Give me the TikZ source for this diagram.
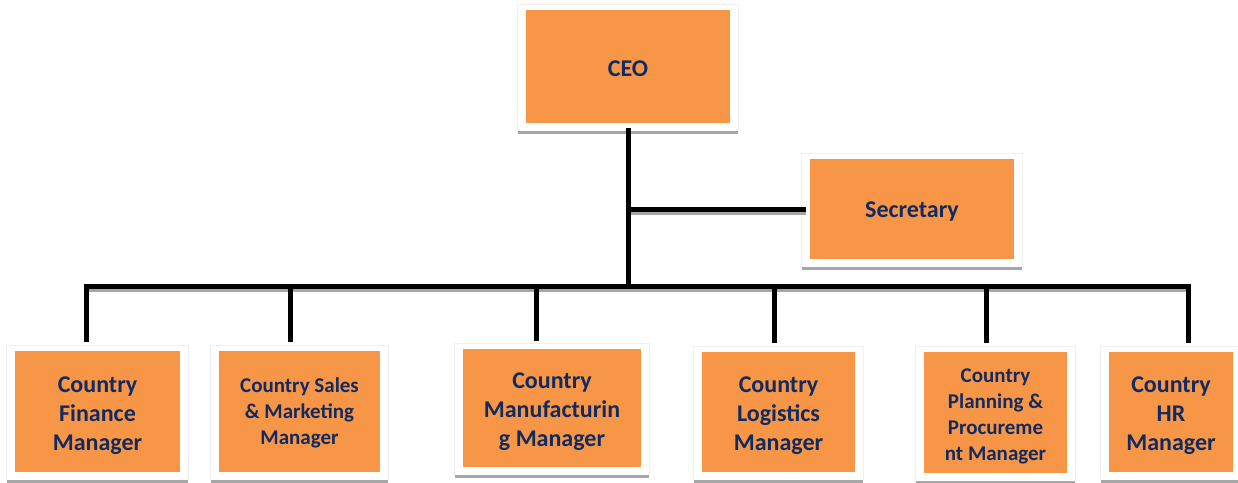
\documentclass[tikz,border=0pt]{standalone}
\usepackage{fontspec}
\setmainfont{Carlito}
\usetikzlibrary{calc,backgrounds}
\definecolor{boxorange}{HTML}{F79646}
\definecolor{labelblue}{HTML}{112A60}
\definecolor{shadowgray}{HTML}{A6A6A6}
% invisible strut that pushes a label's first line down a little
\newcommand\boxstrut[1]{\rule{0pt}{#1}}
\begin{document}
\begin{tikzpicture}[x=0.75pt,y=-0.75pt,
  role/.style={fill=boxorange, text=labelblue, align=center, inner sep=0pt,
    font=\bfseries\fontsize{18}{21.75}\selectfont},
  smalltext/.style={font=\bfseries\fontsize{15.75}{19.5}\selectfont},
  frame/.style={draw=black!6, line width=0.5pt, fill=white},
  frameshadow/.style={draw=shadowgray, line width=2.5pt},
  link/.style={draw=black, line width=3.75pt},
  linkshadow/.style={draw=shadowgray, line width=3.75pt}]
\useasboundingbox (0,0) rectangle (1238,482);

% boxes
\node[role, minimum width=153pt, minimum height=84.75pt] (ceo) at (628,66.5)
  {\boxstrut{14.8pt}CEO};
\node[role, minimum width=153pt, minimum height=75pt] (sec) at (912,209)
  {\boxstrut{16.3pt}Secretary};
\node[role, minimum width=123.75pt, minimum height=90.75pt] (fin) at (97.5,411.5)
  {\boxstrut{17.8pt}Country\\Finance\\Manager};
\node[role, smalltext, minimum width=120.75pt, minimum height=90.75pt] (sales) at (299.5,411.5)
  {\boxstrut{13.3pt}Country Sales\\\& Marketing\\Manager};
\node[role, minimum width=133.5pt, minimum height=88.5pt] (manu) at (552,408)
  {\boxstrut{17.8pt}Country\\Manufacturin\\g Manager};
\node[role, minimum width=114.75pt, minimum height=90pt] (log) at (778.5,412)
  {\boxstrut{17.8pt}Country\\Logistics\\Manager};
\node[role, smalltext, minimum width=107.25pt, minimum height=90.75pt] (plan) at (995.5,412.5)
  {\boxstrut{16.3pt}Country\\Planning \&\\Procureme\\nt Manager};
\node[role, minimum width=93pt, minimum height=90pt] (hr) at (1171,412)
  {\boxstrut{17.8pt}Country\\HR\\Manager};

% white frames with a grey shadow along the bottom
\begin{scope}[on background layer]
  \foreach \b in {ceo,sec,fin,sales,manu,log,plan,hr} {
    \draw[frame] ($(\b.north west)+(-8,-5)$) rectangle ($(\b.south east)+(8,8)$);
    \draw[frameshadow] ($(\b.south west)+(-8,9)$) -- ($(\b.south east)+(8,9)$);
  }
\end{scope}

% bus and drop points
\coordinate (busl) at (84,286);
\coordinate (busr) at (1190.5,286);
\coordinate (dfin) at (86,283.5);
\coordinate (dsales) at (290,286);
\coordinate (dmanu) at (536,286);
\coordinate (dlog) at (774,286);
\coordinate (dplan) at (986,286);
\coordinate (dhr) at (1188,283.5);

% connector shadows
\draw[linkshadow] ($(busl)+(0,3)$) -- ($(busr)+(0,3)$);
\draw[linkshadow] ($(ceo.south |- sec.west)+(0,3)$) -- ($(sec.west)+(-4,3)$);

% connectors
\draw[link] ($(ceo.south)+(0,5)$) -- (ceo.south |- busl);
\draw[link] (ceo.south |- sec.west) -- ($(sec.west)+(-4,0)$);
\draw[link] (busl) -- (busr);
\draw[link] (dfin) -- ($(dfin |- fin.north)+(0,-9)$);
\draw[link] (dsales) -- ($(dsales |- sales.north)+(0,-9)$);
\draw[link] (dmanu) -- ($(dmanu |- manu.north)+(0,-8)$);
\draw[link] (dlog) -- ($(dlog |- log.north)+(0,-9)$);
\draw[link] (dplan) -- ($(dplan |- plan.north)+(0,-9)$);
\draw[link] (dhr) -- ($(dhr |- hr.north)+(0,-9)$);
\end{tikzpicture}
\end{document}
